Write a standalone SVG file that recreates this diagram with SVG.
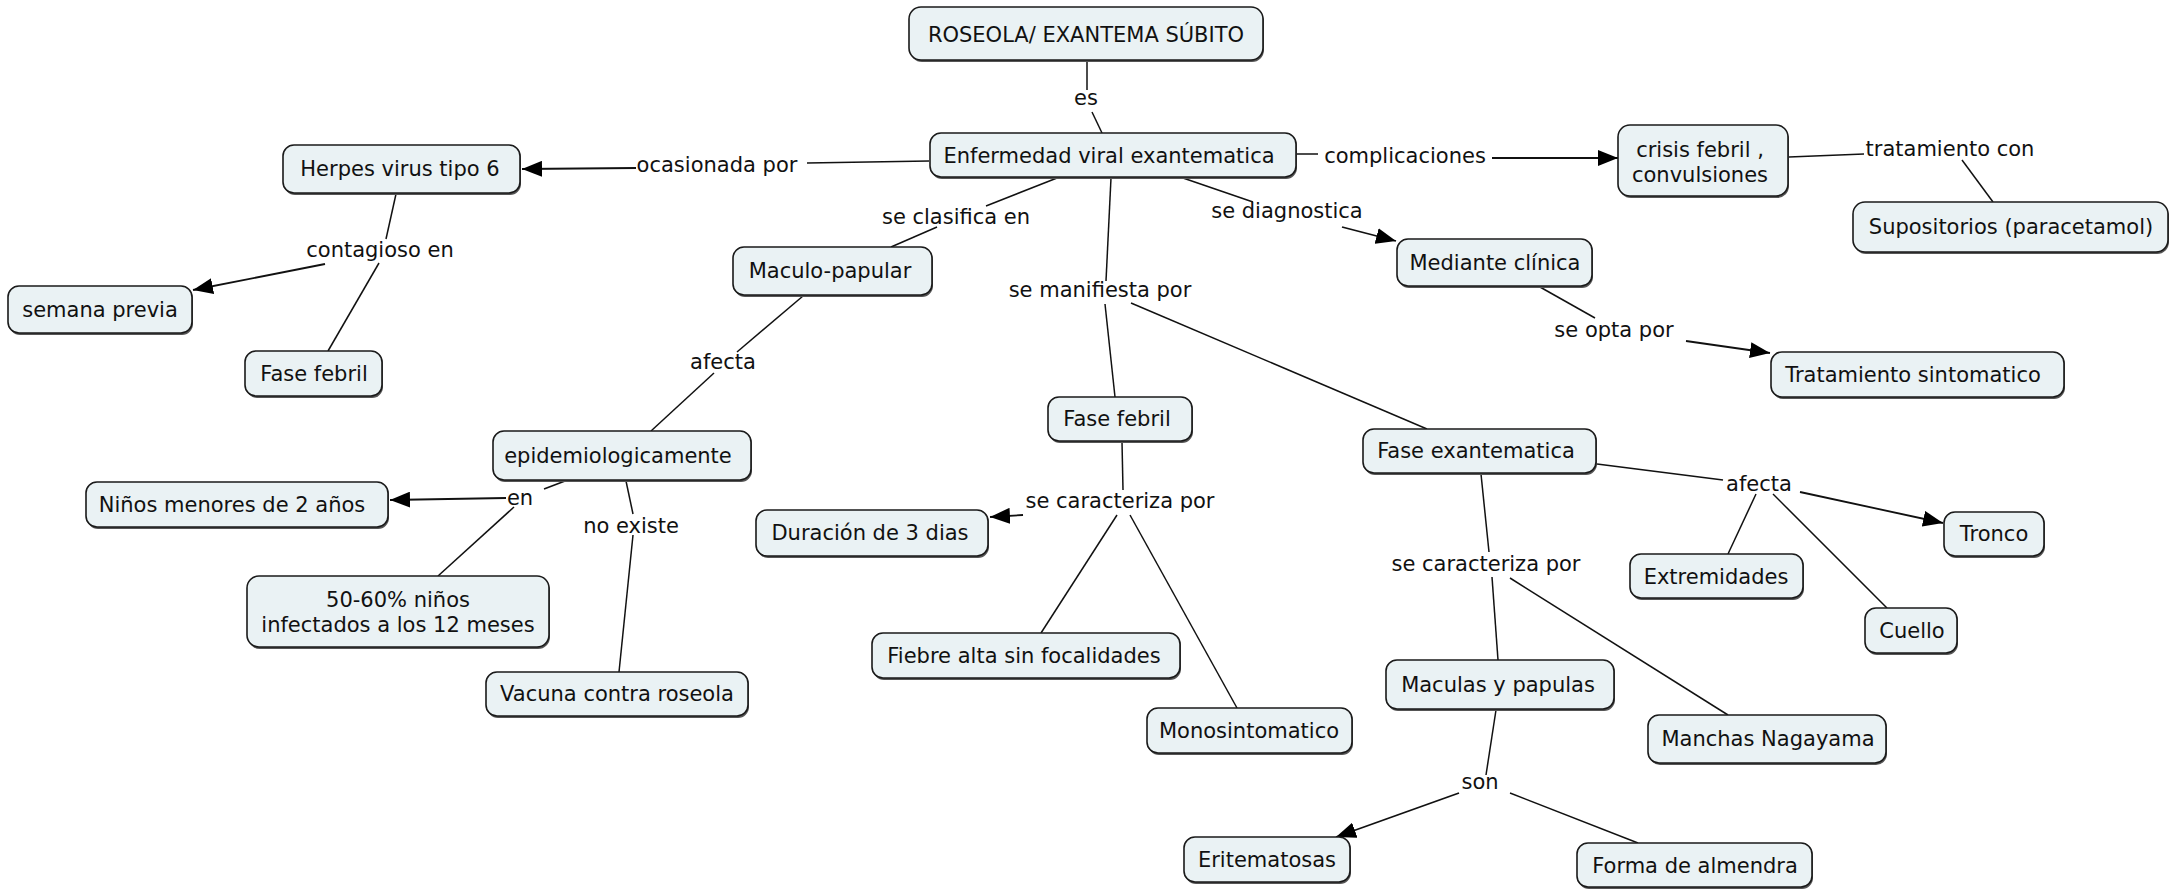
<svg xmlns="http://www.w3.org/2000/svg" width="2179" height="890" viewBox="0 0 2179 890">
  <style>
    .box { fill: #EAF2F4; stroke: #1a1a1a; stroke-width: 1.6; }
    .shadow { fill: #555555; }
    .lbl { font-family: "DejaVu Sans", Verdana, "Liberation Sans", sans-serif; font-size: 21px; fill: #111111; text-anchor: middle; }
    .ln { stroke: #111111; stroke-width: 1.5; fill: none; }
    .ar { stroke: #111111; stroke-width: 1.8; fill: none; marker-end: url(#head); }
  </style>
  <defs>
    <marker id="head" markerUnits="userSpaceOnUse" markerWidth="20" markerHeight="16" refX="20" refY="8" orient="auto">
      <path d="M0,0 L20,8 L0,16 z" fill="#000000"/>
    </marker>
  </defs>
  <rect width="2179" height="890" fill="#ffffff"/>

  <!-- connectors -->
  <g id="connectors">
    <!-- ROSEOLA es Enfermedad -->
    <line class="ln" x1="1087" y1="60" x2="1087" y2="90"/>
    <line class="ln" x1="1092" y1="112" x2="1102" y2="133"/>
    <!-- ocasionada por -->
    <line class="ln" x1="929" y1="161" x2="807" y2="163"/>
    <line class="ar" x1="636" y1="168" x2="522" y2="169"/>
    <!-- complicaciones -->
    <line class="ln" x1="1297" y1="154" x2="1318" y2="154"/>
    <line class="ar" x1="1492" y1="158" x2="1618" y2="158"/>
    <!-- tratamiento con -->
    <line class="ln" x1="1789" y1="157" x2="1864" y2="154"/>
    <line class="ln" x1="1962" y1="160" x2="1993" y2="202"/>
    <!-- se clasifica en -->
    <line class="ln" x1="1057" y1="178" x2="986" y2="206"/>
    <line class="ln" x1="937" y1="227" x2="891" y2="247"/>
    <!-- se manifiesta por -->
    <line class="ln" x1="1111" y1="178" x2="1106" y2="281"/>
    <line class="ln" x1="1105" y1="304" x2="1115" y2="397"/>
    <line class="ln" x1="1131" y1="303" x2="1427" y2="429"/>
    <!-- se diagnostica -->
    <line class="ln" x1="1183" y1="178" x2="1253" y2="202"/>
    <line class="ar" x1="1342" y1="227" x2="1396" y2="241"/>
    <!-- se opta por -->
    <line class="ln" x1="1540" y1="287" x2="1595" y2="318"/>
    <line class="ar" x1="1686" y1="341" x2="1770" y2="353"/>
    <!-- contagioso en -->
    <line class="ln" x1="396" y1="194" x2="386" y2="239"/>
    <line class="ar" x1="325" y1="264" x2="193" y2="290"/>
    <line class="ln" x1="379" y1="263" x2="328" y2="351"/>
    <!-- afecta (epidemiologicamente) -->
    <line class="ln" x1="803" y1="296" x2="737" y2="352"/>
    <line class="ln" x1="714" y1="373" x2="651" y2="431"/>
    <!-- en -->
    <line class="ln" x1="565" y1="481" x2="544" y2="489"/>
    <line class="ar" x1="506" y1="498" x2="390" y2="500"/>
    <line class="ln" x1="514" y1="507" x2="438" y2="576"/>
    <!-- no existe -->
    <line class="ln" x1="626" y1="481" x2="633" y2="514"/>
    <line class="ln" x1="633" y1="535" x2="619" y2="672"/>
    <!-- se caracteriza por (fase febril) -->
    <line class="ln" x1="1122" y1="442" x2="1123" y2="490"/>
    <line class="ar" x1="1023" y1="515" x2="990" y2="517"/>
    <line class="ln" x1="1117" y1="515" x2="1041" y2="633"/>
    <line class="ln" x1="1130" y1="515" x2="1237" y2="708"/>
    <!-- afecta (fase exantematica) -->
    <line class="ln" x1="1597" y1="464" x2="1723" y2="480"/>
    <line class="ar" x1="1800" y1="492" x2="1943" y2="523"/>
    <line class="ln" x1="1756" y1="494" x2="1728" y2="554"/>
    <line class="ln" x1="1773" y1="494" x2="1887" y2="608"/>
    <!-- se caracteriza por (fase exantematica) -->
    <line class="ln" x1="1481" y1="474" x2="1489" y2="552"/>
    <line class="ln" x1="1492" y1="577" x2="1498" y2="660"/>
    <line class="ln" x1="1510" y1="578" x2="1728" y2="715"/>
    <!-- son -->
    <line class="ln" x1="1496" y1="710" x2="1486" y2="775"/>
    <line class="ar" x1="1459" y1="793" x2="1336" y2="837"/>
    <line class="ln" x1="1510" y1="793" x2="1638" y2="843"/>
  </g>

  <!-- linking phrases -->
  <g id="linking-phrases">
    <text class="lbl" x="1086" y="105">es</text>
    <text class="lbl" x="717" y="172">ocasionada por</text>
    <text class="lbl" x="1405" y="163">complicaciones</text>
    <text class="lbl" x="1950" y="156">tratamiento con</text>
    <text class="lbl" x="956" y="224">se clasifica en</text>
    <text class="lbl" x="1287" y="218">se diagnostica</text>
    <text class="lbl" x="1100" y="297">se manifiesta por</text>
    <text class="lbl" x="1614" y="337">se opta por</text>
    <text class="lbl" x="380" y="257">contagioso en</text>
    <text class="lbl" x="723" y="369">afecta</text>
    <text class="lbl" x="520" y="505">en</text>
    <text class="lbl" x="631" y="533">no existe</text>
    <text class="lbl" x="1120" y="508">se caracteriza por</text>
    <text class="lbl" x="1759" y="491">afecta</text>
    <text class="lbl" x="1486" y="571">se caracteriza por</text>
    <text class="lbl" x="1480" y="789">son</text>
  </g>

  <!-- concepts -->
  <g id="n-roseola"><rect class="shadow" x="910" y="9" width="354" height="53" rx="12"/><rect class="box" x="909" y="7" width="354" height="53" rx="12"/><text class="lbl" x="1086" y="42">ROSEOLA/ EXANTEMA SÚBITO</text></g>
  <g id="n-enfermedad"><rect class="shadow" x="931" y="135" width="366" height="44" rx="11"/><rect class="box" x="930" y="133" width="366" height="44" rx="11"/><text class="lbl" x="1109" y="163">Enfermedad viral exantematica</text></g>
  <g id="n-herpes"><rect class="shadow" x="284" y="147" width="237" height="48" rx="11"/><rect class="box" x="283" y="145" width="237" height="48" rx="11"/><text class="lbl" x="400" y="176">Herpes virus tipo 6</text></g>
  <g id="n-semana"><rect class="shadow" x="9" y="288" width="184" height="47" rx="11"/><rect class="box" x="8" y="286" width="184" height="47" rx="11"/><text class="lbl" x="100" y="317">semana previa</text></g>
  <g id="n-fasefebril-a"><rect class="shadow" x="246" y="353" width="137" height="45" rx="11"/><rect class="box" x="245" y="351" width="137" height="45" rx="11"/><text class="lbl" x="314" y="381">Fase febril</text></g>
  <g id="n-maculo"><rect class="shadow" x="734" y="249" width="199" height="48" rx="11"/><rect class="box" x="733" y="247" width="199" height="48" rx="11"/><text class="lbl" x="830" y="278">Maculo-papular</text></g>
  <g id="n-epi"><rect class="shadow" x="494" y="433" width="258" height="49" rx="11"/><rect class="box" x="493" y="431" width="258" height="49" rx="11"/><text class="lbl" x="618" y="463">epidemiologicamente</text></g>
  <g id="n-ninos"><rect class="shadow" x="87" y="484" width="302" height="45" rx="11"/><rect class="box" x="86" y="482" width="302" height="45" rx="11"/><text class="lbl" x="232" y="512">Niños menores de 2 años</text></g>
  <g id="n-porcentaje"><rect class="shadow" x="248" y="578" width="302" height="71" rx="12"/><rect class="box" x="247" y="576" width="302" height="71" rx="12"/><text class="lbl" x="398" y="607">50-60% niños</text><text class="lbl" x="398" y="632">infectados a los 12 meses</text></g>
  <g id="n-vacuna"><rect class="shadow" x="487" y="674" width="262" height="44" rx="11"/><rect class="box" x="486" y="672" width="262" height="44" rx="11"/><text class="lbl" x="617" y="701">Vacuna contra roseola</text></g>
  <g id="n-fasefebril-b"><rect class="shadow" x="1049" y="399" width="144" height="44" rx="11"/><rect class="box" x="1048" y="397" width="144" height="44" rx="11"/><text class="lbl" x="1117" y="426">Fase febril</text></g>
  <g id="n-duracion"><rect class="shadow" x="757" y="512" width="232" height="46" rx="11"/><rect class="box" x="756" y="510" width="232" height="46" rx="11"/><text class="lbl" x="870" y="540">Duración de 3 dias</text></g>
  <g id="n-fiebre"><rect class="shadow" x="873" y="635" width="308" height="45" rx="11"/><rect class="box" x="872" y="633" width="308" height="45" rx="11"/><text class="lbl" x="1024" y="663">Fiebre alta sin focalidades</text></g>
  <g id="n-mono"><rect class="shadow" x="1148" y="710" width="205" height="45" rx="11"/><rect class="box" x="1147" y="708" width="205" height="45" rx="11"/><text class="lbl" x="1249" y="738">Monosintomatico</text></g>
  <g id="n-faseexan"><rect class="shadow" x="1364" y="431" width="233" height="44" rx="11"/><rect class="box" x="1363" y="429" width="233" height="44" rx="11"/><text class="lbl" x="1476" y="458">Fase exantematica</text></g>
  <g id="n-maculas"><rect class="shadow" x="1387" y="662" width="228" height="49" rx="11"/><rect class="box" x="1386" y="660" width="228" height="49" rx="11"/><text class="lbl" x="1498" y="692">Maculas y papulas</text></g>
  <g id="n-manchas"><rect class="shadow" x="1649" y="717" width="238" height="48" rx="11"/><rect class="box" x="1648" y="715" width="238" height="48" rx="11"/><text class="lbl" x="1768" y="746">Manchas Nagayama</text></g>
  <g id="n-eritem"><rect class="shadow" x="1185" y="839" width="166" height="45" rx="11"/><rect class="box" x="1184" y="837" width="166" height="45" rx="11"/><text class="lbl" x="1267" y="867">Eritematosas</text></g>
  <g id="n-forma"><rect class="shadow" x="1578" y="845" width="235" height="44" rx="11"/><rect class="box" x="1577" y="843" width="235" height="44" rx="11"/><text class="lbl" x="1695" y="873">Forma de almendra</text></g>
  <g id="n-extrem"><rect class="shadow" x="1631" y="556" width="173" height="44" rx="11"/><rect class="box" x="1630" y="554" width="173" height="44" rx="11"/><text class="lbl" x="1716" y="584">Extremidades</text></g>
  <g id="n-cuello"><rect class="shadow" x="1866" y="610" width="92" height="45" rx="11"/><rect class="box" x="1865" y="608" width="92" height="45" rx="11"/><text class="lbl" x="1912" y="638">Cuello</text></g>
  <g id="n-tronco"><rect class="shadow" x="1945" y="514" width="100" height="44" rx="11"/><rect class="box" x="1944" y="512" width="100" height="44" rx="11"/><text class="lbl" x="1994" y="541">Tronco</text></g>
  <g id="n-mediante"><rect class="shadow" x="1398" y="241" width="195" height="47" rx="11"/><rect class="box" x="1397" y="239" width="195" height="47" rx="11"/><text class="lbl" x="1495" y="270">Mediante clínica</text></g>
  <g id="n-tratsint"><rect class="shadow" x="1772" y="354" width="293" height="45" rx="11"/><rect class="box" x="1771" y="352" width="293" height="45" rx="11"/><text class="lbl" x="1913" y="382">Tratamiento sintomatico</text></g>
  <g id="n-crisis"><rect class="shadow" x="1619" y="127" width="170" height="71" rx="12"/><rect class="box" x="1618" y="125" width="170" height="71" rx="12"/><text class="lbl" x="1700" y="157">crisis febril ,</text><text class="lbl" x="1700" y="182">convulsiones</text></g>
  <g id="n-supos"><rect class="shadow" x="1854" y="204" width="315" height="50" rx="12"/><rect class="box" x="1853" y="202" width="315" height="50" rx="12"/><text class="lbl" x="2011" y="234">Supositorios (paracetamol)</text></g>
</svg>
